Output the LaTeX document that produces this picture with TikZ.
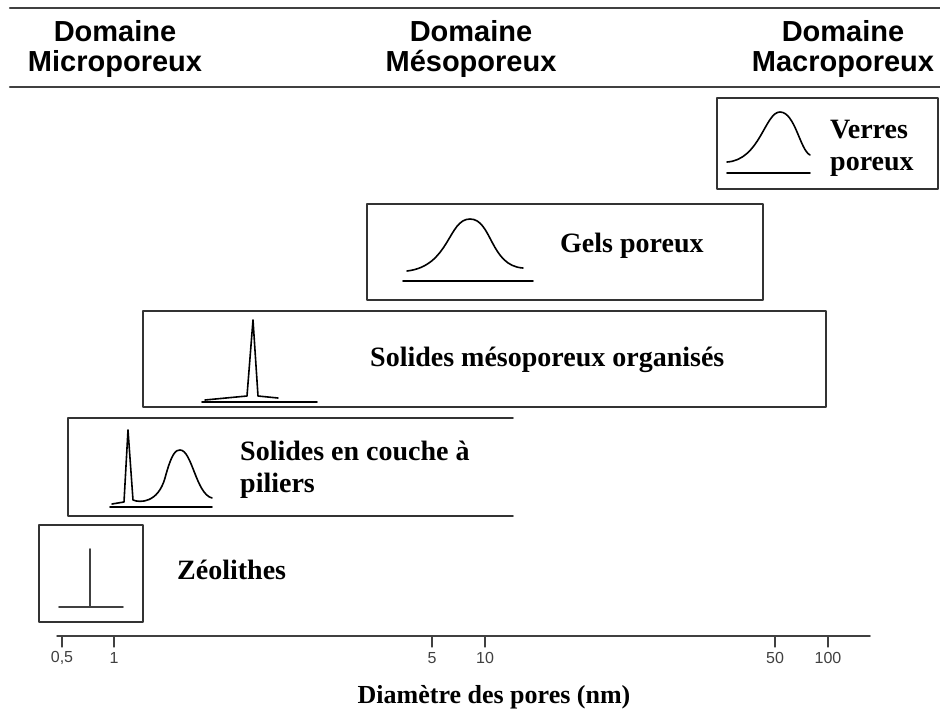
\documentclass[tikz,border=0pt]{standalone}
\usepackage{fontspec}
\setmainfont{Liberation Serif}
\newfontfamily\domfont{Liberation Sans}
\usetikzlibrary{positioning}
\tikzset{
  domaine/.style = {font = \domfont\bfseries\fontsize{29}{31}\selectfont, align = center, inner sep = 0pt},
  classe/.style = {font = \bfseries\fontsize{28}{32}\selectfont, align = left, anchor = west, inner sep = 0pt},
  cadre/.style = {draw = black!80, line width = 1.8pt},
  courbe/.style = {line width = 1.6pt},
  graduation/.style = {font = \domfont\fontsize{16}{18}\selectfont, text = black!75, inner sep = 1pt}
}
\newcommand{\graduation}[3]{
  \draw[line width = 1.3pt, black!75] (#1, 636) -- (#1, 647);
  \node[graduation] (#2) at (#1, 658) {#3};
}

\begin{document}
\begin{tikzpicture}[x = 1pt, y = -1pt, line cap = round, line join = round]
  \useasboundingbox (0, 0) rectangle (940, 715);

  % en-tete
  \draw[line width = 2.5pt, black!75] (10, 8) -- (940, 8) (10, 87) -- (940, 87);
  \node[domaine] (micro) at (115, 49) {Domaine\\Microporeux};
  \node[domaine] (meso) at (471, 49) {Domaine\\Mésoporeux};
  \node[domaine] (macro) at (843, 49) {Domaine\\Macroporeux};

  % verres poreux
  \draw[cadre] (717, 98) rectangle (938, 189);
  \draw[courbe] (727, 173) -- (810, 173);
  \draw[courbe] (727, 162) .. controls (760, 160) and (765, 112) .. (780, 112)
    .. controls (795, 112) and (800, 150) .. (810, 155);
  \node[classe] (verres) at (830, 148) {Verres\\poreux};

  % gels poreux
  \draw[cadre] (367, 204) rectangle (763, 300);
  \draw[courbe] (403, 281) -- (533, 281);
  \draw[courbe] (407, 271) .. controls (450, 266) and (448, 219) .. (470, 219)
    .. controls (492, 219) and (490, 266) .. (523, 268);
  \node[classe] (gels) at (560, 246) {Gels poreux};

  % solides mesoporeux organises
  \draw[cadre] (143, 311) rectangle (826, 407);
  \draw[courbe] (202, 402) -- (317, 402);
  \draw[courbe] (205, 400) -- (247, 396) -- (253, 320) -- (258, 396) -- (278, 398);
  \node[classe] (organises) at (370, 360) {Solides mésoporeux organisés};

  % solides en couche a piliers
  \draw[cadre] (513, 418) -- (68, 418) -- (68, 516) -- (513, 516);
  \draw[courbe] (110, 507) -- (212, 507);
  \draw[courbe] (112, 504) -- (124, 502) -- (128, 430) -- (133, 500)
    .. controls (140, 503) and (158, 503) .. (165, 478)
    .. controls (172, 452) and (176, 450) .. (180, 450)
    .. controls (192, 450) and (196, 494) .. (212, 498);
  \node[classe] (piliers) at (240, 470) {Solides en couche à\\piliers};

  % zeolithes
  \draw[cadre] (39, 525) rectangle (143, 622);
  \draw[courbe, black!75] (90, 549) -- (90, 607) (59, 607) -- (123, 607);
  \node[classe] (zeolithes) at (177, 570) {Zéolithes};

  % axe des diametres
  \draw[line width = 1.5pt, black!75] (57, 636) -- (870, 636);
  \graduation{62}{g05}{0,5}
  \graduation{114}{g1}{1}
  \graduation{432}{g5}{5}
  \graduation{485}{g10}{10}
  \graduation{775}{g50}{50}
  \graduation{828}{g100}{100}
  \node[font = \bfseries\fontsize{26}{29}\selectfont] (titre) at (494, 697) {Diamètre des pores (nm)};
\end{tikzpicture}
\end{document}
